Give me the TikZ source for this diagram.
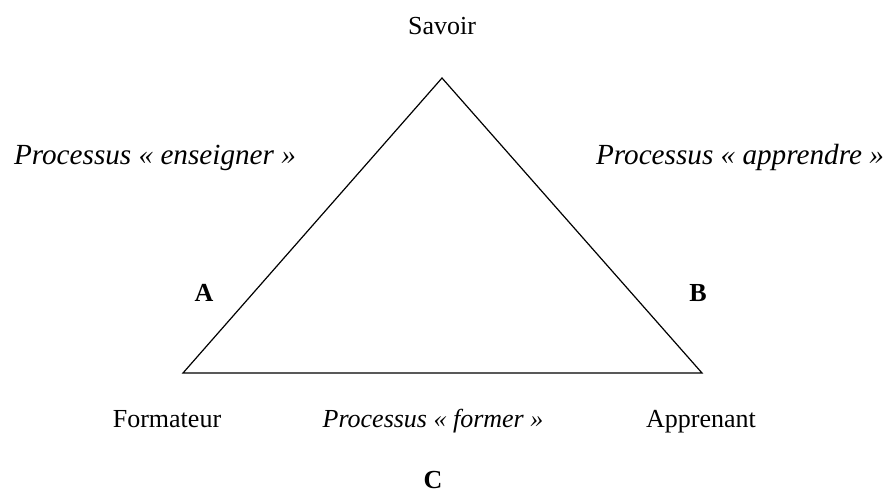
\documentclass[tikz,border=0pt]{standalone}
\usepackage{fontspec}
\setmainfont{Liberation Serif}
\usetikzlibrary{positioning}

\begin{document}
\begin{tikzpicture}[x=0.5pt,y=-0.5pt,semithick,
                    lbl/.style={anchor=base,font=\fontsize{13}{15}\selectfont},
                    proc/.style={anchor=base,font=\fontsize{14.6}{16}\selectfont\itshape},
                    procsmall/.style={anchor=base,font=\fontsize{13}{15}\selectfont\itshape},
                    letter/.style={anchor=base,font=\fontsize{13}{15}\selectfont\bfseries}]
  \useasboundingbox (0,0) rectangle (895,495);

  	\coordinate (S) at (442,78);
  	\coordinate (F) at (183,373);
  	\coordinate (P) at (702,373);

  	\draw (F) -- (S) -- (P) -- cycle;

  	\node[lbl] (savoir)     at (442,34)  {Savoir};
  	\node[lbl] (formateur)  at (167,427) {Formateur};
  	\node[lbl] (apprenant)  at (701,427) {Apprenant};

  	\node[proc] (enseigner) at (155,164) {Processus «~enseigner~»};
  	\node[proc] (apprendre) at (740,164) {Processus «~apprendre~»};
  	\node[procsmall] (former) at (433,427) {Processus «~former~»};

  	\node[letter] (A) at (204,301) {A};
  	\node[letter] (B) at (698,301) {B};
  	\node[letter] (C) at (433,488) {C};

\end{tikzpicture}
\end{document}
